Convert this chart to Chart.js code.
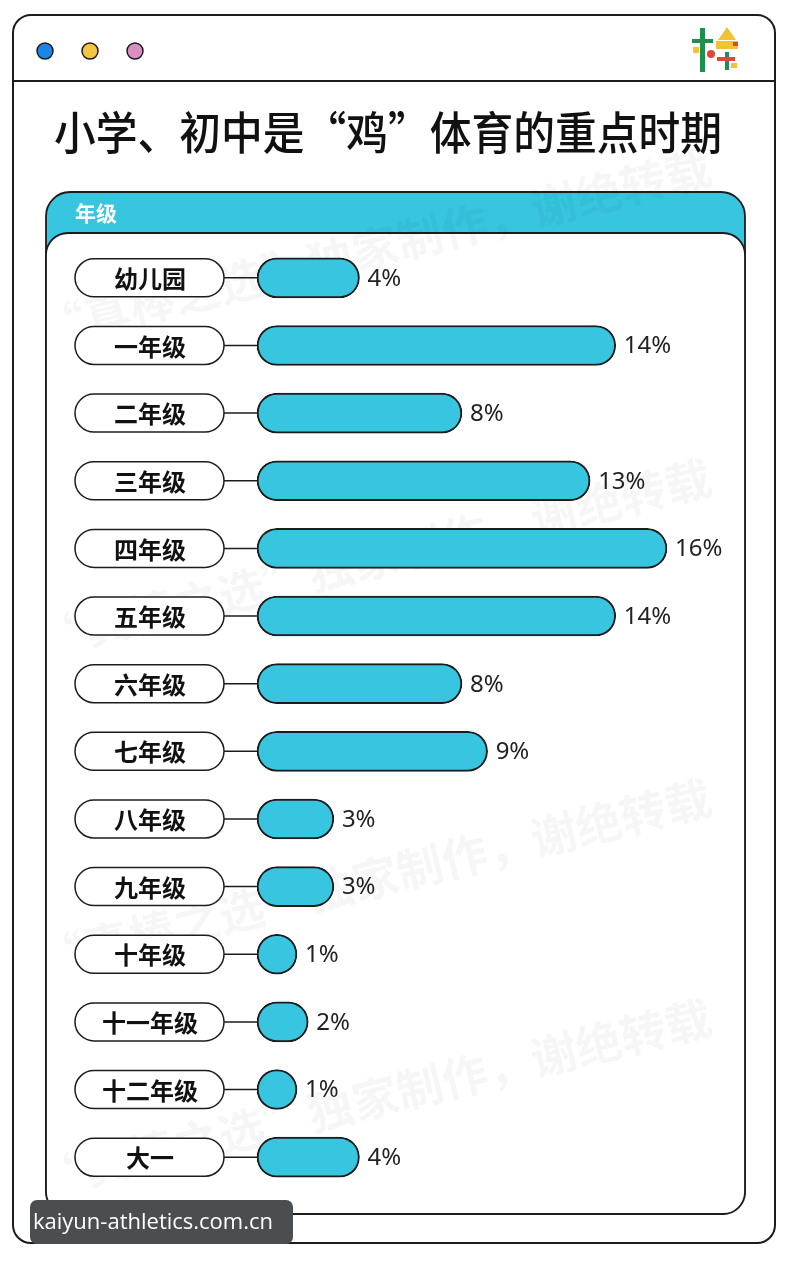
<!DOCTYPE html>
<html>
<head>
<meta charset="utf-8">
<script src="https://cdn.jsdelivr.net/npm/chart.js@4/dist/chart.umd.min.js"></script>
<style>
  body { margin: 0; background: #fff; }
  canvas { display: block; }
</style>
</head>
<body>
<canvas id="gradeChart" width="788" height="1274"></canvas>
<script>
var grades = ["幼儿园", "一年级", "二年级", "三年级", "四年级", "五年级", "六年级", "七年级", "八年级", "九年级", "十年级", "十一年级", "十二年级", "大一"];
var shares = [4, 14, 8, 13, 16, 14, 8, 9, 3, 3, 1, 2, 1, 4];
var titleText = "小学、初中是“鸡”体育的重点时期";
var panelTitle = "年级";
var siteMark = "kaiyun-athletics.com.cn";

var CJK = '"Noto Sans CJK SC", "Noto Sans", sans-serif';
var cyan = '#37c5df';
var ink = '#1c1c1c';

function roundRect(ctx, x, y, w, h, r) {
    ctx.beginPath();
    ctx.moveTo(x + r, y);
    ctx.arcTo(x + w, y, x + w, y + h, r);
    ctx.arcTo(x + w, y + h, x, y + h, r);
    ctx.arcTo(x, y + h, x, y, r);
    ctx.arcTo(x, y, x + w, y, r);
    ctx.closePath();
}

// card, header, panels, labels
var backdrop = {
    id: 'backdrop',
    beforeDraw: function(chart) {
        var ctx = chart.ctx;
        ctx.save();
        ctx.fillStyle = '#fff';
        ctx.fillRect(0, 0, chart.width, chart.height);

        // outer card
        roundRect(ctx, 13, 15, 762, 1228, 18);
        ctx.fillStyle = '#fff';
        ctx.fill();
        ctx.lineWidth = 2;
        ctx.strokeStyle = ink;
        ctx.stroke();
        ctx.beginPath();
        ctx.moveTo(13, 81);
        ctx.lineTo(775, 81);
        ctx.stroke();

        // window dots
        var dots = [[45, '#1b86e6'], [90, '#f6c443'], [135, '#d98fc2']];
        dots.forEach(function(d) {
            ctx.beginPath();
            ctx.arc(d[0], 51, 8, 0, Math.PI * 2);
            ctx.fillStyle = d[1];
            ctx.fill();
            ctx.lineWidth = 1.5;
            ctx.stroke();
        });

        // little logo
        ctx.fillStyle = '#1f8f4e';
        ctx.fillRect(700, 28, 5, 44);
        ctx.fillRect(692, 39, 21, 4);
        ctx.fillStyle = '#f1c232';
        ctx.beginPath();
        ctx.moveTo(727, 27); ctx.lineTo(736, 40); ctx.lineTo(718, 40); ctx.closePath(); ctx.fill();
        ctx.fillRect(716, 41, 22, 8);
        ctx.fillRect(693, 47, 6, 6);
        ctx.fillStyle = '#d94a3a';
        ctx.beginPath(); ctx.arc(711, 54, 4, 0, Math.PI * 2); ctx.fill();
        ctx.fillRect(733, 42, 5, 4);
        ctx.fillStyle = '#1f8f4e';
        ctx.fillRect(725, 52, 4, 18);
        ctx.fillStyle = '#d94a3a';
        ctx.fillRect(717, 57, 18, 4);
        ctx.fillStyle = '#f1c232';
        ctx.fillRect(731, 63, 6, 5);

        // title
        ctx.fillStyle = '#111';
        ctx.font = '500 45px ' + CJK;
        ctx.textAlign = 'center';
        ctx.textBaseline = 'middle';
        ctx.fillText(titleText, 388, 133, 668);

        // cyan panel and white inner panel
        roundRect(ctx, 46, 192, 699, 1022, 24);
        ctx.fillStyle = cyan;
        ctx.fill();
        ctx.lineWidth = 1.8;
        ctx.strokeStyle = ink;
        ctx.stroke();
        roundRect(ctx, 46, 233, 699, 981, 22);
        ctx.fillStyle = '#fff';
        ctx.fill();
        ctx.stroke();

        ctx.fillStyle = '#fff';
        ctx.font = 'bold 21px ' + CJK;
        ctx.textAlign = 'left';
        ctx.fillText(panelTitle, 75, 213);

        // faint watermark
        ctx.save();
        ctx.font = 'bold 46px ' + CJK;
        ctx.fillStyle = 'rgba(0,0,0,0.035)';
        [[40, 330], [40, 640], [40, 960], [40, 1180]].forEach(function(p) {
            ctx.save();
            ctx.translate(p[0], p[1]);
            ctx.rotate(-0.24);
            ctx.fillText('“真棒之选”独家制作，谢绝转载', 0, 0);
            ctx.restore();
        });
        ctx.restore();

        // category pills and connectors
        var yScale = chart.scales.y;
        var xLeft = chart.chartArea.left;
        ctx.font = 'bold 24px ' + CJK;
        ctx.textAlign = 'center';
        grades.forEach(function(g, i) {
            var cy = yScale.getPixelForValue(i);
            ctx.beginPath();
            ctx.moveTo(224, cy);
            ctx.lineTo(xLeft, cy);
            ctx.lineWidth = 1.5;
            ctx.strokeStyle = ink;
            ctx.stroke();
            roundRect(ctx, 75, cy - 19, 149, 38, 19);
            ctx.fillStyle = '#fff';
            ctx.fill();
            ctx.stroke();
            ctx.fillStyle = '#111';
            ctx.fillText(g, 150, cy + 1);
        });
        ctx.restore();
    },
    afterDatasetsDraw: function(chart) {
        var ctx = chart.ctx;
        var meta = chart.getDatasetMeta(0);
        ctx.save();
        ctx.font = '24px "Noto Sans", sans-serif';
        ctx.fillStyle = '#222';
        ctx.textAlign = 'left';
        ctx.textBaseline = 'middle';
        meta.data.forEach(function(bar, i) {
            ctx.fillText(shares[i] + '%', bar.x + 8, bar.y + 1);
        });
        ctx.restore();
    },
    afterDraw: function(chart) {
        var ctx = chart.ctx;
        ctx.save();
        roundRect(ctx, 30, 1200, 263, 44, 7);
        ctx.fillStyle = '#4b4e50';
        ctx.fill();
        ctx.fillStyle = '#fff';
        ctx.font = '22px "Open Sans", "Noto Sans", sans-serif';
        ctx.textAlign = 'left';
        ctx.textBaseline = 'middle';
        ctx.fillText(siteMark, 33, 1223);
        ctx.restore();
    }
};

var ctxGrade = document.getElementById('gradeChart').getContext('2d');
var gradeChart = new Chart(ctxGrade, {
    type: 'bar',
    data: {
        labels: grades,
        datasets: [{
            data: shares,
            backgroundColor: cyan,
            borderColor: ink,
            borderWidth: 2,
            borderRadius: 20,
            borderSkipped: false,
            barThickness: 40,
            minBarLength: 40
        }]
    },
    options: {
        indexAxis: 'y',
        responsive: false,
        animation: false,
        devicePixelRatio: 1,
        layout: {
            padding: { left: 257, right: 121, top: 244, bottom: 83 }
        },
        scales: {
            x: { display: false, min: 0, max: 16 },
            y: { display: false }
        },
        plugins: {
            legend: { display: false },
            tooltip: { enabled: false }
        }
    },
    plugins: [backdrop]
});
</script>
</body>
</html>
